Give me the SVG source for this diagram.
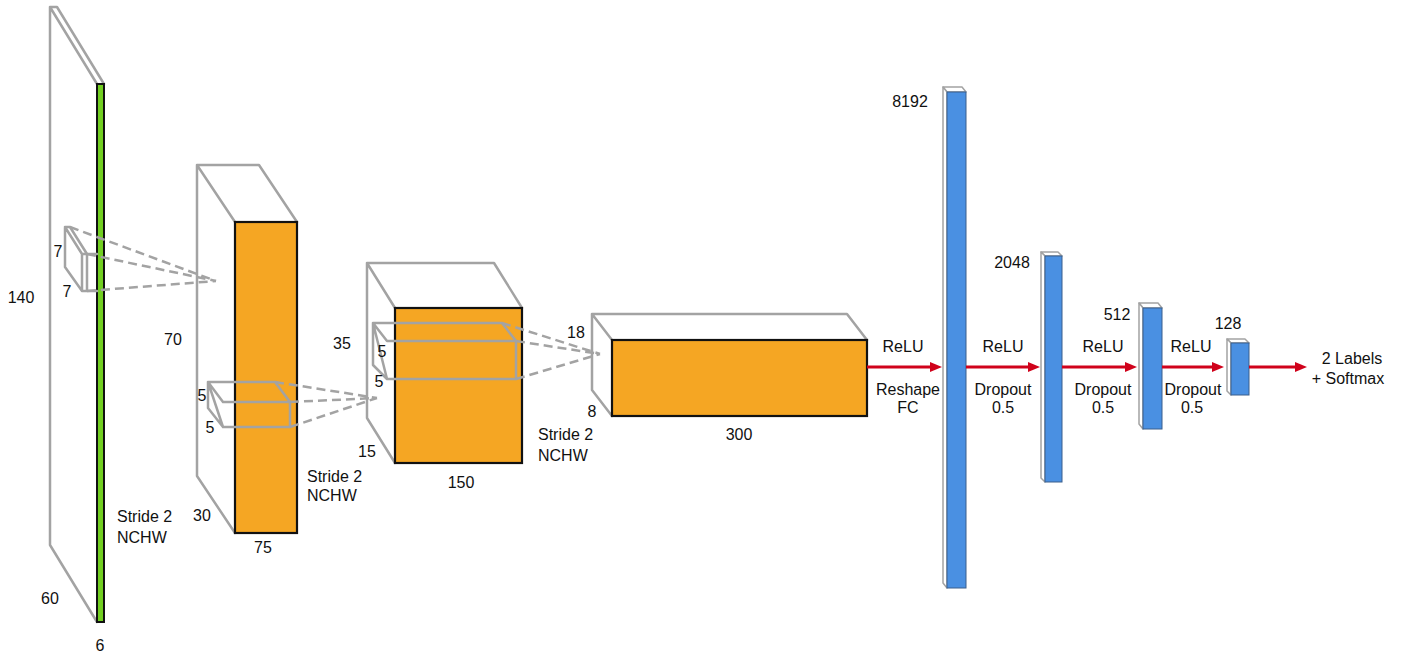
<svg xmlns="http://www.w3.org/2000/svg" width="1403" height="658" viewBox="0 0 1403 658">
<defs>
<style>
.g{fill:none;stroke:#a3a3a3;stroke-width:2.5;stroke-linejoin:round;stroke-linecap:round}
.d{fill:none;stroke:#a3a3a3;stroke-width:2.5;stroke-dasharray:9 5}
.or{fill:#f5a623;stroke:#111;stroke-width:2.2}
.gr{fill:#72cf21;stroke:#111;stroke-width:2}
.bl{fill:#4a90e2;stroke:#3a5f8c;stroke-width:1}
.sd{fill:#fff;stroke:#a3a3a3;stroke-width:1.5;stroke-linejoin:round}
.ar{stroke:#d0021b;stroke-width:3;fill:none}
text{font-family:"Liberation Sans",Arial,Helvetica,sans-serif;font-size:16px;fill:#111}
.m{text-anchor:middle}
</style>
<marker id="ah" viewBox="0 0 12 10" markerWidth="12" markerHeight="10" refX="2" refY="5" orient="auto" markerUnits="userSpaceOnUse">
<path d="M0,0 L12,5 L0,10 z" fill="#d0021b"/>
</marker>
</defs>
<rect width="1403" height="658" fill="#fff"/>

<g id="input">
<path class="g" d="M97,84 L50,7 L57,7 L104,84 M50,7 L50,545 L97,622"/>
<rect class="gr" x="97" y="84" width="7" height="538"/>
<text class="m" x="21" y="303">140</text>
<text class="m" x="50" y="604">60</text>
<text class="m" x="100" y="651">6</text>
<text x="117" y="522">Stride 2</text>
<text x="117" y="543">NCHW</text>
</g>

<g id="conv1">
<path class="g" d="M235,222 L197,165 L259,165 L297,222 M197,165 L197,476 L235,533"/>
<rect class="or" x="235" y="222" width="62" height="311"/>
<text class="m" x="173" y="345">70</text>
<text class="m" x="202" y="521">30</text>
<text class="m" x="263" y="553">75</text>
<text x="307" y="482">Stride 2</text>
<text x="307" y="501">NCHW</text>
</g>

<g id="conv2">
<path class="g" d="M395,308 L367,263 L494,263 L522,308 M367,263 L367,418 L395,463"/>
<rect class="or" x="395" y="308" width="127" height="155"/>
<text class="m" x="342" y="349">35</text>
<text class="m" x="367" y="457">15</text>
<text class="m" x="461" y="488">150</text>
<text x="538" y="440">Stride 2</text>
<text x="538" y="461">NCHW</text>
</g>

<g id="conv3">
<path class="g" d="M612,340 L592,314 L847,314 L867,340 M592,314 L592,390 L612,416"/>
<rect class="or" x="612" y="340" width="255" height="76"/>
<text class="m" x="576" y="338">18</text>
<text class="m" x="592" y="417">8</text>
<text class="m" x="739" y="440">300</text>
</g>

<g id="kernel1">
<path class="g" d="M65,227 L70,227 L87,254 M65,227 L82,254 M65,227 L65,267 L82,291 M82,254 L97,254 M82,291 L97,291 M82,254 L82,291 M87,254 L87,291"/>
<text class="m" x="58" y="257">7</text>
<text class="m" x="67" y="297">7</text>
</g>

<g id="kernel2">
<path class="g" d="M208,382 L275,382 L290,402 M208,382 L223,402 L290,402 L290,427 L223,427 Z M208,382 L208,408 L223,427"/>
<text class="m" x="202" y="401">5</text>
<text class="m" x="210" y="433">5</text>
</g>

<g id="kernel3">
<path class="g" d="M373,323 L502,323 L516,341 M373,323 L387,341 L516,341 L516,379 L387,379 Z M373,323 L373,365 L387,379"/>
<text class="m" x="382" y="357">5</text>
<text class="m" x="379" y="387">5</text>
</g>

<g id="fc1">
<polygon class="sd" points="943,87 962,87 966,92 947,92"/>
<polygon class="sd" points="943,87 947,92 947,588 943,583"/>
<rect class="bl" x="947" y="92" width="19" height="496"/>
<text class="m" x="910" y="107">8192</text>
</g>

<g id="fc2">
<polygon class="sd" points="1041,252 1058,252 1062,256 1045,256"/>
<polygon class="sd" points="1041,252 1045,256 1045,482 1041,478"/>
<rect class="bl" x="1045" y="256" width="17" height="226"/>
<text class="m" x="1012" y="268">2048</text>
</g>

<g id="fc3">
<polygon class="sd" points="1139,303 1158,303 1162,308 1143,308"/>
<polygon class="sd" points="1139,303 1143,308 1143,429 1139,424"/>
<rect class="bl" x="1143" y="308" width="19" height="121"/>
<text class="m" x="1117" y="320">512</text>
</g>

<g id="fc4">
<polygon class="sd" points="1227,339 1245,339 1249,343 1231,343"/>
<polygon class="sd" points="1227,339 1231,343 1231,395 1227,391"/>
<rect class="bl" x="1231" y="343" width="18" height="52"/>
<text class="m" x="1228" y="329">128</text>
</g>

<g id="output">
<text class="m" x="1352" y="364">2 Labels</text>
<text class="m" x="1348" y="384">+ Softmax</text>
</g>

<g id="connectors">
<path class="d" d="M70,227 L216,281 M87,254 L216,281 M87,291 L216,281"/>
<path class="d" d="M275,382 L377,398 M290,402 L377,398 M290,427 L377,398"/>
<path class="d" d="M502,323 L600,354 M516,341 L600,354 M516,379 L600,354"/>
<line class="ar" x1="867" y1="367" x2="932" y2="367" marker-end="url(#ah)"/>
<line class="ar" x1="966" y1="367" x2="1030" y2="367" marker-end="url(#ah)"/>
<line class="ar" x1="1062" y1="367" x2="1127" y2="367" marker-end="url(#ah)"/>
<line class="ar" x1="1162" y1="367" x2="1214" y2="367" marker-end="url(#ah)"/>
<line class="ar" x1="1249" y1="367" x2="1297" y2="367" marker-end="url(#ah)"/>
<text class="m" x="903" y="352">ReLU</text>
<text class="m" x="908" y="395">Reshape</text>
<text class="m" x="908" y="413">FC</text>
<text class="m" x="1003" y="352">ReLU</text>
<text class="m" x="1003" y="395">Dropout</text>
<text class="m" x="1003" y="413">0.5</text>
<text class="m" x="1103" y="352">ReLU</text>
<text class="m" x="1103" y="395">Dropout</text>
<text class="m" x="1103" y="413">0.5</text>
<text class="m" x="1191" y="352">ReLU</text>
<text class="m" x="1193" y="395">Dropout</text>
<text class="m" x="1192" y="413">0.5</text>
</g>
</svg>
